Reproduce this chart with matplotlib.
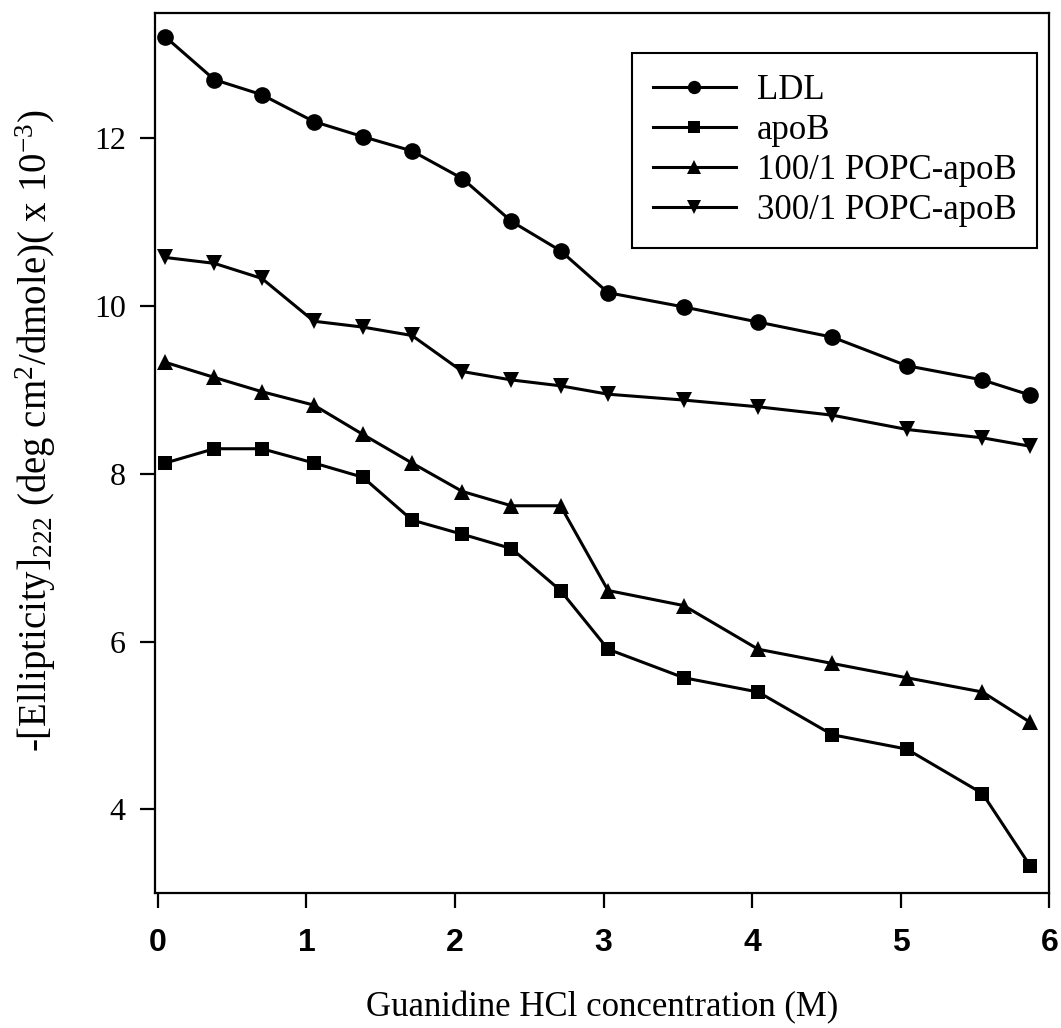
import matplotlib
matplotlib.use("Agg")
import matplotlib.pyplot as plt

# Guanidine HCl concentration (M)
conc = [0.05, 0.38, 0.70, 1.05, 1.38, 1.71, 2.05, 2.38, 2.71, 3.03, 3.54, 4.04, 4.54, 5.04, 5.55, 5.87]

# -[Ellipticity]222 (x 10^-3)
ldl = [13.21, 12.70, 12.52, 12.20, 12.02, 11.85, 11.52, 11.01, 10.66, 10.16, 9.99, 9.81, 9.63, 9.29, 9.12, 8.94]
apob = [8.13, 8.30, 8.30, 8.13, 7.96, 7.45, 7.28, 7.11, 6.61, 5.91, 5.57, 5.40, 4.89, 4.72, 4.19, 3.33]
popc100 = [9.33, 9.15, 8.98, 8.82, 8.47, 8.13, 7.79, 7.62, 7.62, 6.61, 6.43, 5.91, 5.74, 5.57, 5.40, 5.04]
popc300 = [10.58, 10.51, 10.33, 9.82, 9.75, 9.65, 9.22, 9.12, 9.05, 8.95, 8.88, 8.80, 8.70, 8.53, 8.43, 8.33]

labels = ["LDL", "apoB", "100/1 POPC-apoB", "300/1 POPC-apoB"]

plt.rcParams["mathtext.fontset"] = "custom"
plt.rcParams["mathtext.rm"] = "Liberation Serif"
plt.rcParams["mathtext.it"] = "Liberation Serif:italic"

fig = plt.figure(figsize=(10.61, 10.28), dpi=100)
ax = fig.add_axes([0.146, 0.131, 0.843, 0.856])

style = dict(color="black", linewidth=2.2, markeredgewidth=0)
ax.plot(conc, ldl, marker="o", markersize=12, label=labels[0], **style)
ax.plot(conc, apob, marker="s", markersize=10.5, label=labels[1], **style)
ax.plot(conc, popc100, marker="^", markersize=12, label=labels[2], **style)
ax.plot(conc, popc300, marker="v", markersize=12, label=labels[3], **style)

ax.set_xlim(-0.02, 6.0)
ax.set_ylim(3.0, 13.49)
ax.set_xticks([0, 1, 2, 3, 4, 5, 6])
ax.set_yticks([4, 6, 8, 10, 12])

for s in ax.spines.values():
    s.set_linewidth(1.6)

ax.tick_params(axis="both", direction="out", width=1.6, length=11)
ax.tick_params(axis="x", pad=14)
ax.tick_params(axis="y", pad=10)
for t in ax.get_xticklabels():
    t.set_fontfamily("Liberation Sans")
    t.set_fontweight("bold")
    t.set_fontsize(23)
for t in ax.get_yticklabels():
    t.set_fontfamily("Liberation Serif")
    t.set_fontsize(23)

ax.set_xlabel("Guanidine HCl concentration (M)", fontfamily="Liberation Serif",
              fontsize=25, labelpad=24)
ax.set_ylabel(r"-[Ellipticity]$_{222}$ (deg cm$^{2}$/dmole)( x 10$^{-3}$)",
              fontfamily="Liberation Serif", fontsize=28)
ax.yaxis.set_label_coords(-0.108, 0.526)

leg = ax.legend(loc="upper right", bbox_to_anchor=(0.9866, 0.9545),
                borderaxespad=0, prop={"family": "Liberation Serif", "size": 25},
                markerscale=0.8, handlelength=2.4, handletextpad=0.6,
                borderpad=0.6, labelspacing=0.2, fancybox=False, framealpha=1)
leg.get_frame().set_edgecolor("black")
leg.get_frame().set_linewidth(1.5)

fig.savefig("out.png", dpi=100)
